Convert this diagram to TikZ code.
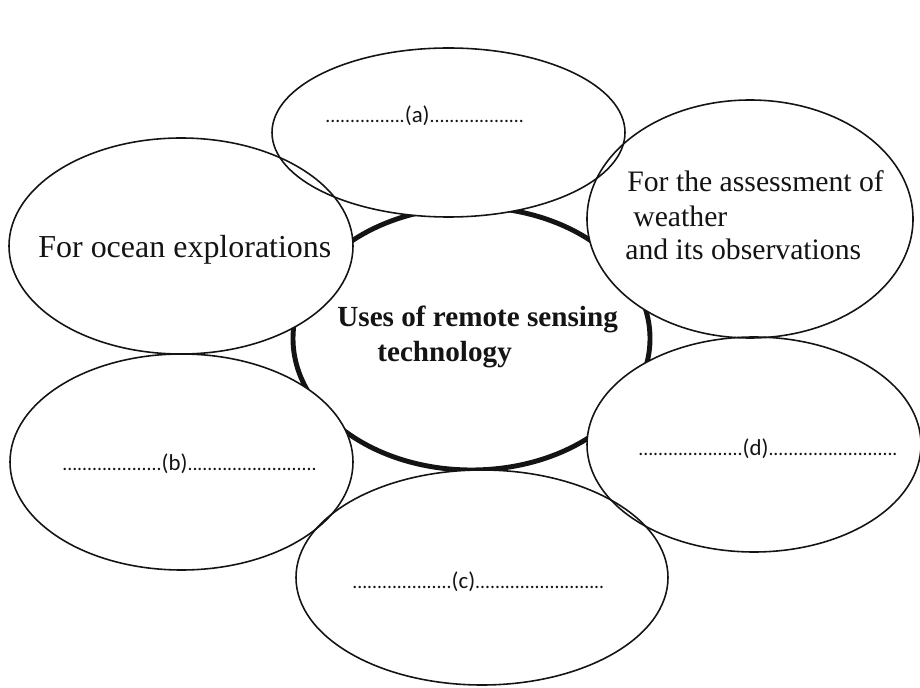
\documentclass[tikz,border=0pt]{standalone}
\usepackage{fontspec}
\setmainfont{Liberation Serif}
\newfontfamily\blankfont{Carlito}
\definecolor{ink}{HTML}{141414}
\tikzset{
  hubline/.style={ink,line width=2.8pt},
  bubble/.style={ink,line width=0.9pt},
  txt/.style={ink,inner sep=0pt,anchor=base west},
  hubtext/.style={txt,font=\fontsize{16.6}{20}\selectfont\bfseries},
  bigtext/.style={txt,font=\fontsize{18.2}{22}\selectfont},
  midtext/.style={txt,font=\fontsize{16.9}{20}\selectfont},
  blanktext/.style={txt,font=\blankfont},
}
% dots, letter in brackets, dots
\newcommand{\answerline}[3]{%
  {\fontsize{11.2}{13}\selectfont\foreach\k in {1,...,#1}{.}}%
  {\fontsize{13}{15}\selectfont(#2)}%
  {\fontsize{11.2}{13}\selectfont\foreach\k in {1,...,#3}{.}}}

\begin{document}
\begin{tikzpicture}[x=0.02cm,y=0.02cm]
\useasboundingbox (0,0) rectangle (920,687);

% ---------------------------------------------------------------- centre
\draw[hubline] (471.5,348.5) ellipse (178.5 and 131.5);

% ---------------------------------------------------------------- outer bubbles
\foreach \x/\y/\rx/\ry in {448.5/554.5/176.5/84.5, 181/441/172/108,
                           750/468/163/119, 181.5/225/171.5/108,
                           754/242.5/167/107.5, 482/109.5/186/107.5}
  {\fill[white] (\x,\y) ellipse ({\rx} and {\ry});}
\foreach \x/\y/\rx/\ry in {448.5/554.5/176.5/84.5, 181/441/172/108,
                           750/468/163/119, 181.5/225/171.5/108,
                           754/242.5/167/107.5, 482/109.5/186/107.5}
  {\draw[bubble] (\x,\y) ellipse ({\rx} and {\ry});}

% ---------------------------------------------------------------- texts
\node[hubtext] (hub1) at (337,360) {Uses of remote sensing};
\node[hubtext] (hub2) at (377,325) {technology};

\node[bigtext] (ocean) at (38,429) {For ocean explorations};

\node[midtext] (wea1) at (627,495) {For the assessment of};
\node[midtext] (wea2) at (633,460) {weather};
\node[midtext] (wea3) at (625,427) {and its observations};

% ---------------------------------------------------------------- blanks
\node[blanktext] (qa) at (325,564) {\answerline{16}{a}{19}};
\node[blanktext] (qb) at (62,216)  {\answerline{20}{b}{26}};
\node[blanktext] (qc) at (352,99)  {\answerline{20}{c}{26}};
\node[blanktext] (qd) at (638,232) {\answerline{21}{d}{26}};

\end{tikzpicture}
\end{document}
